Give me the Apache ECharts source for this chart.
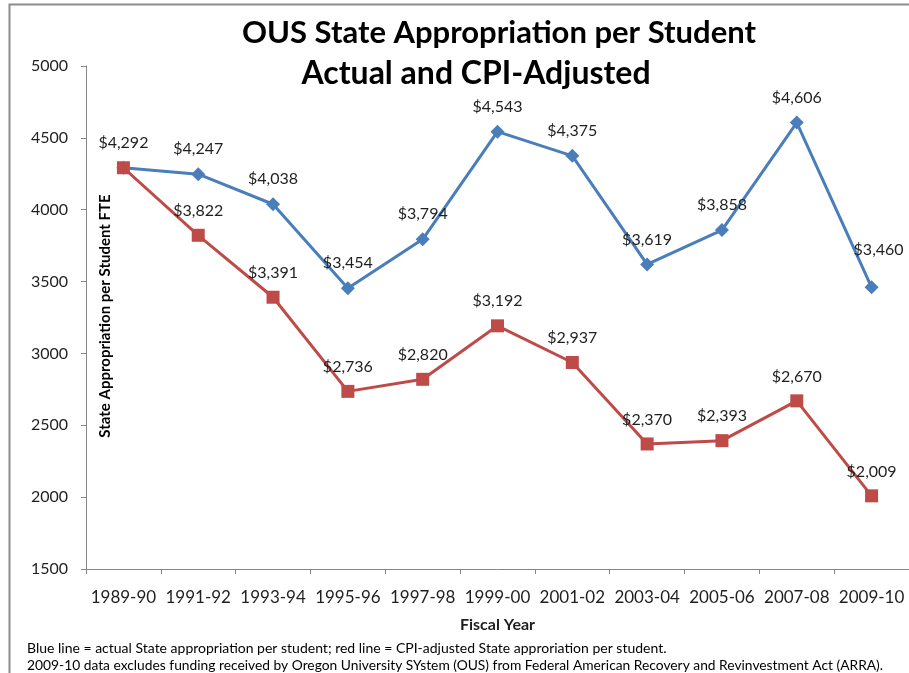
<!DOCTYPE html>
<html>
<head>
<meta charset="utf-8">
<title>OUS State Appropriation per Student</title>
<script src="https://cdn.jsdelivr.net/npm/echarts@6/dist/echarts.min.js"></script>
<style>
  html, body { margin: 0; padding: 0; background: #fff; }
  #chart { width: 909px; height: 673px; }
</style>
</head>
<body>
<div id="chart"></div>
<script>
const years = ["1989-90", "1991-92", "1993-94", "1995-96", "1997-98", "1999-00", "2001-02", "2003-04", "2005-06", "2007-08", "2009-10"];
const actual = [4292, 4247, 4038, 3454, 3794, 4543, 4375, 3619, 3858, 4606, 3460];
const cpiAdjusted = [4292, 3822, 3391, 2736, 2820, 3192, 2937, 2370, 2393, 2670, 2009];
const yTicks = [1500, 5000, 500]; // min, max, step

const textColor = "#1f1f1f";
const axisColor = "#868686";
const font = "Lato, 'Open Sans', sans-serif";

function money(v) {
  return "$" + v.toLocaleString("en-US");
}

const chart = echarts.init(document.getElementById("chart"));

function lineSeries(name, data, color, symbol, size, lastOffset, hideFirst) {
  return {
    name: name,
    type: "line",
    // the last label in the source is nudged off the line,
    // and the shared first point only carries one label
    data: data.map((v, i) => {
      if (i === data.length - 1 && lastOffset) return { value: v, label: { offset: lastOffset } };
      if (i === 0 && hideFirst) return { value: v, label: { show: false } };
      return v;
    }),
    symbol: symbol,
    symbolSize: size,
    lineStyle: { color: color, width: 3 },
    itemStyle: { color: color },
    label: {
      show: true,
      position: "top",
      distance: 10,
      color: textColor,
      fontFamily: font,
      fontSize: 16,
      formatter: (p) => money(p.value),
    },
    emphasis: { disabled: true },
    animation: false,
  };
}

chart.setOption({
  backgroundColor: "#fff",
  textStyle: { fontFamily: font },
  title: [
    {
      text: "OUS State Appropriation per Student",
      left: 494,
      top: 12,
      textAlign: "center",
      textStyle: { fontFamily: font, fontSize: 31, fontWeight: "bold", color: "#000" },
    },
    {
      text: "Actual and CPI-Adjusted",
      left: 471,
      top: 53,
      textAlign: "center",
      textStyle: { fontFamily: font, fontSize: 32, fontWeight: "bold", color: "#000" },
    },
    {
      text: "Blue line = actual State appropriation per student; red line = CPI-adjusted State approriation per student.",
      left: 22,
      top: 636,
      textStyle: { fontFamily: font, fontSize: 14, fontWeight: "normal", color: "#000" },
    },
    {
      text: "2009-10 data excludes funding received by Oregon University SYstem (OUS) from Federal American Recovery and Revinvestment Act (ARRA).",
      left: 22,
      top: 654,
      textStyle: { fontFamily: font, fontSize: 13.8, fontWeight: "normal", color: "#000" },
    },
  ],
  grid: {
    left: 86,
    right: -3,
    top: 66,
    bottom: 104,
  },
  xAxis: {
    type: "category",
    data: years,
    boundaryGap: true,
    name: "Fiscal Year",
    nameLocation: "middle",
    nameGap: 48,
    nameTextStyle: { fontFamily: font, fontSize: 16, fontWeight: "bold", color: textColor },
    axisLine: { lineStyle: { color: axisColor } },
    axisTick: { show: true, length: 5, lineStyle: { color: axisColor } },
    axisLabel: { color: textColor, fontSize: 17, fontFamily: font, margin: 20, interval: 0 },
    splitLine: { show: false },
  },
  yAxis: {
    type: "value",
    min: yTicks[0],
    max: yTicks[1],
    interval: yTicks[2],
    axisLine: { show: true, lineStyle: { color: axisColor } },
    axisTick: { show: true, length: 5, lineStyle: { color: axisColor } },
    axisLabel: { color: textColor, fontSize: 16, fontFamily: font, margin: 18, formatter: (v) => String(v) },
    splitLine: { show: false },
  },
  graphic: [
    {
      // outer frame, cut off at right and bottom like the source
      type: "rect",
      left: 7,
      top: 2,
      shape: { width: 1000, height: 1000 },
      style: { fill: "none", stroke: "#8c8c8c", lineWidth: 2 },
      silent: true,
    },
    {
      // y axis title sits inside the plot
      type: "text",
      x: 105,
      y: 316,
      rotation: Math.PI / 2,
      style: {
        text: "State Appropriation per Student FTE",
        font: "bold 15px " + font,
        fill: "#000",
        align: "center",
        verticalAlign: "middle",
      },
      silent: true,
    },
  ],
  series: [
    lineSeries("Actual", actual, "#4a7ebb", "diamond", 14, [7, -12], false),
    lineSeries("CPI-Adjusted", cpiAdjusted, "#be4b48", "rect", 13, null, true),
  ],
});
</script>
</body>
</html>
